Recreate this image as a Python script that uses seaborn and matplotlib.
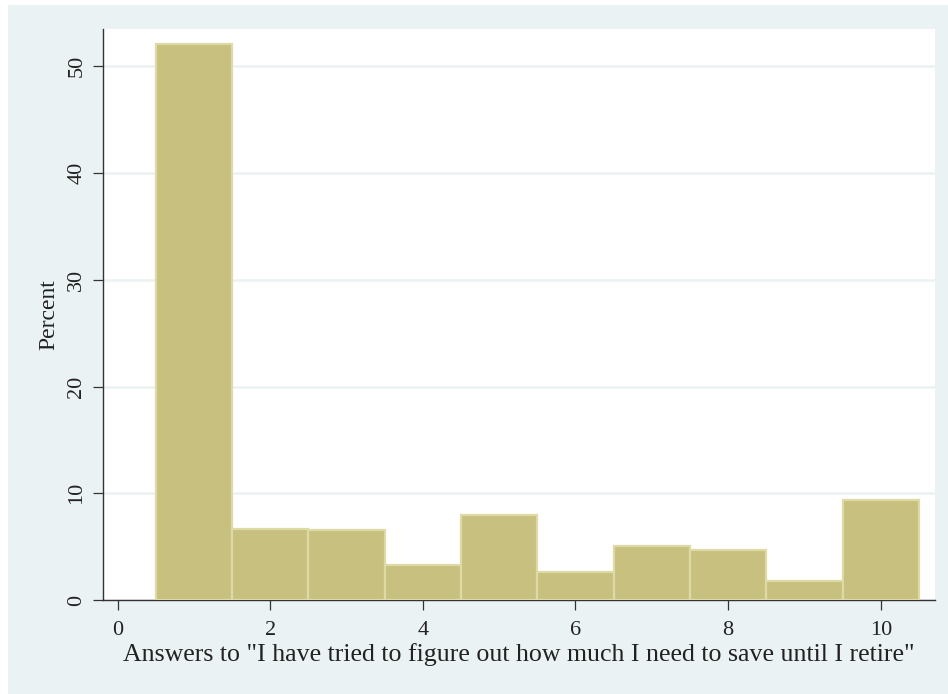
import numpy as np
import pandas as pd
import seaborn as sns
import matplotlib.pyplot as plt
from matplotlib.patches import Rectangle

# Answer categories (1-10 scale) and the share of respondents giving each
answers = [1, 2, 3, 4, 5, 6, 7, 8, 9, 10]
percent = [52.1, 6.63, 6.53, 3.28, 8.0, 2.66, 5.09, 4.72, 1.81, 9.37]

x_ticks = [0, 2, 4, 6, 8, 10]
y_ticks = [0, 10, 20, 30, 40, 50]
x_title = 'Answers to "I have tried to figure out how much I need to save until I retire"'
y_title = "Percent"

df = pd.DataFrame({"answer": answers, "percent": percent})

sns.set_theme(style="white")
plt.rcParams["font.family"] = ["Liberation Serif", "DejaVu Serif"]

W, H = 948, 694
fig = plt.figure(figsize=(W / 100, H / 100), dpi=100, facecolor="white")

# light graph-region background, kept behind the axes
bg = "#EAF2F3"
fig.patches.append(Rectangle((8 / W, 0), 1 - 8 / W, 1 - 5 / H,
                             transform=fig.transFigure, facecolor=bg,
                             edgecolor="none", zorder=-10))

ax = fig.add_axes([103 / W, 1 - 600 / H, (935 - 103) / W, (600 - 29) / H])
ax.set_facecolor("white")

sns.barplot(data=df, x="answer", y="percent", native_scale=True, width=1.0,
            color="#C8C07E", saturation=1.0, edgecolor="#DEDAA6",
            linewidth=1.6, errorbar=None, ax=ax, zorder=3)

ax.set_xlim(-0.19, 10.71)
ax.set_ylim(0, 53.5)
ax.set_xticks(x_ticks)
ax.set_yticks(y_ticks)
ax.set_xticklabels([str(t) for t in x_ticks])
ax.set_yticklabels([str(t) for t in y_ticks], rotation=90, va="center")

ax.yaxis.grid(True, color="#EAF2F3", linewidth=1.8, zorder=1)
ax.set_axisbelow(True)

for s in ["top", "right"]:
    ax.spines[s].set_visible(False)
for s in ["left", "bottom"]:
    ax.spines[s].set_color("#333333")
    ax.spines[s].set_linewidth(1.0)

ax.tick_params(axis="both", which="major", direction="out", length=7,
               width=0.9, color="#333333", labelsize=16, labelcolor="#222222",
               bottom=True, left=True)
ax.tick_params(axis="x", pad=8)
ax.tick_params(axis="y", pad=5)

ax.set_xlabel(x_title, fontsize=18.6, color="#222222", labelpad=2)
ax.set_ylabel(y_title, fontsize=17, color="#222222", labelpad=6)

fig.savefig("out.png", dpi=100, facecolor="white")
